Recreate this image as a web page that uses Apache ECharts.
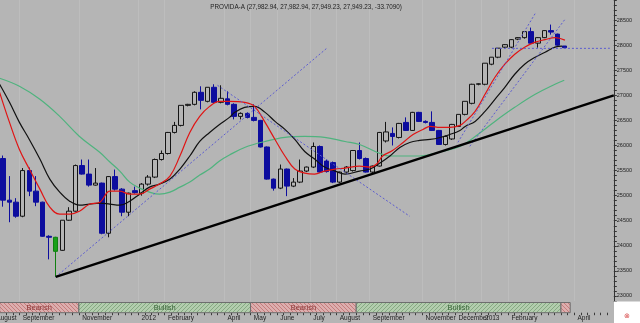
<!DOCTYPE html>
<html><head><meta charset="utf-8">
<script src="https://cdn.jsdelivr.net/npm/echarts@6/dist/echarts.min.js"></script>
<style>html,body{margin:0;padding:0;background:#b5b5b5;overflow:hidden;}#c{width:647px;height:323px;margin-left:-7px;}</style>
</head><body><div id="c"></div>
<script>
// ---------- DATA ----------
const weekCount = 94; // weekly slots on the x axis (first slot = week of Aug 5 2011)
const monthTicks = [[0,'August'],[4,'September'],[13,'November'],[22,'2012'],[26,'February'],[35,'April'],[39,'May'],[43,'June'],[48,'July'],[52,'August'],[57,'September'],[65,'November'],[70,'December'],[74,'2013'],[78,'February'],[88,'April']];
const yTickLabels = [23000,23500,24000,24500,25000,25500,26000,26500,27000,27500,28000,28500];
const firstCandle = 1;
const signalCandle = 9;
const open  = [25740,24910,24870,24590,25500,25090,24870,24190,24170,23910,24510,24690,25600,25430,25210,25250,24250,25380,25130,24670,25100,25050,25230,25370,25720,25840,26260,26400,26800,26820,27060,26880,27160,26860,26930,26820,26580,26640,26560,26500,25970,25330,25150,25530,25190,25270,25490,25570,25980,25690,25660,25270,25470,25500,25900,25740,25470,25590,26090,26240,26160,26460,26300,26660,26480,26460,26300,26020,26130,26380,26620,26840,27220,27220,27620,27760,27960,27960,28120,28150,28270,28040,28150,28290,28220,27982.94];
const high  = [25800,25390,24950,25550,25560,25390,24880,24210,24180,24510,24770,25620,25720,25720,25550,25260,25390,25520,25150,25060,25180,25250,25410,25740,25900,26270,26470,26800,26830,27080,27180,27160,27220,27200,27080,26840,26660,26660,26820,26510,25980,25340,25620,25540,25350,25720,25580,26060,26000,25720,25680,25480,25590,25910,26060,25760,25600,26270,26470,26360,26450,26560,26670,26670,26500,26680,26310,26200,26430,26620,26880,27230,27240,27640,27760,27940,28020,28120,28160,28270,28350,28160,28300,28410,28230,27982.94];
const low   = [24780,24470,24560,24570,24990,24790,24180,23730,23380,23900,24500,24680,25420,25180,25200,24230,24170,25100,24590,24590,25040,25000,25200,25350,25700,25820,26240,26380,26780,26800,26720,26860,26850,26840,26800,26520,26520,26540,26480,25960,25320,25100,25130,24990,25170,25250,25470,25550,25450,25460,25250,25250,25440,25480,25720,25460,25450,25580,26060,26000,26140,26290,26290,26470,26440,26290,26010,26000,26110,26370,26600,26820,27200,27200,27600,27740,27940,27940,28100,28130,28030,27950,28140,28210,27990,27949.23];
const close = [24910,24870,24590,25500,25090,24870,24190,24170,23890,24510,24690,25600,25430,25210,25250,24250,25380,25130,24670,25050,25060,25230,25370,25720,25840,26260,26400,26800,26820,27060,26900,27160,26860,26940,26820,26580,26640,26560,26500,25970,25330,25150,25530,25190,25270,25490,25570,25980,25470,25480,25270,25470,25570,25900,25740,25470,25590,26260,26270,26180,26440,26300,26660,26480,26460,26300,26020,26180,26420,26620,26880,27220,27230,27640,27760,27940,28010,28110,28150,28270,28040,28150,28290,28260,28000,27949.23];
// moving averages: [week position, price]
const maRed = [[0.5,27060],[2,26460],[3.5,25920],[5,25530],[6.6,25130],[8.1,24770],[9.6,24630],[11.1,24630],[12.6,24690],[14.1,24830],[15.7,24870],[17.2,25090],[18.7,25090],[20.2,25030],[21.7,25030],[23.2,25130],[24.7,25230],[26.3,25390],[27.8,25790],[29.3,26260],[30.8,26580],[32.3,26780],[33.8,26880],[35.3,26880],[37.6,26860],[39.1,26780],[40.7,26460],[42.2,26120],[43.7,25790],[45.2,25530],[46.7,25450],[48.2,25430],[49.7,25490],[51.3,25530],[52.8,25550],[55,25590],[56.6,25570],[57.6,25630],[58.5,25790],[60,25900],[61.6,26060],[63.1,26220],[64.6,26320],[65.7,26380],[67.2,26360],[68.7,26360],[70.2,26400],[71,26480],[72.5,26680],[74,27020],[75.5,27360],[77,27620],[78.5,27820],[80,27960],[81.6,28060],[83.1,28110],[84.6,28150],[86.1,28100]];
const maBlack = [[0.5,27220],[2,26860],[3.5,26460],[5,26120],[6.6,25730],[8.1,25330],[9.6,25070],[11.1,24890],[12.6,24810],[14.1,24830],[15.7,24850],[17.2,24830],[18.7,24810],[20.2,24890],[21.7,25030],[23.2,25170],[24.7,25230],[26.3,25330],[27.8,25530],[29.3,25790],[30.8,26080],[32.3,26260],[33.8,26420],[35.3,26560],[36.1,26660],[37.6,26760],[39.1,26780],[40.7,26660],[42.2,26480],[43.7,26320],[45.2,26120],[46.7,25880],[48.2,25730],[49.7,25570],[51.3,25490],[52.8,25430],[55,25490],[56.6,25530],[58.1,25650],[59.6,25790],[61.1,25960],[62.6,26060],[64.1,26100],[65.7,26120],[67.2,26160],[68.7,26220],[70.2,26300],[71,26380],[72.5,26480],[74,26680],[75.5,26920],[77,27160],[78.5,27420],[80,27620],[81.6,27760],[83.1,27860],[84.6,27960],[85.7,27980]];
const maGreen = [[0.5,27340],[3.5,27180],[6.6,26920],[9.6,26580],[12.6,26180],[15.7,25860],[17.2,25670],[18.7,25490],[20.2,25270],[21.7,25150],[23.2,25070],[24.7,25030],[26.3,25070],[27.8,25170],[29.3,25270],[30.8,25410],[32.3,25530],[33.8,25690],[35.3,25810],[37.6,25960],[40.7,26080],[43.7,26160],[46.7,26180],[49.7,26160],[52.8,26080],[55,26020],[58.1,25840],[59.6,25790],[61.1,25790],[64.1,25790],[67.2,25870],[70.2,25980],[72.5,26180],[75.5,26480],[78.5,26760],[81.6,27020],[84.6,27220],[86,27300]];
const trendMain = [[9,23380],[93.5,27000]];
const dashLines = [
  [[9,23380],[50.2,27956]],
  [[33.5,27199],[62.6,24589]],
  [[69.9,26063],[81.7,28653]],
  [[71.7,25984],[86.1,28514]],
  [[75.05,27936],[92.9,27936]]
];
const bandStart = [0.5,12.5,38.5,54.5,85.5];
const bandEnd   = [12.5,38.5,54.5,85.5,86.9];
const bandKind  = ['Bearish','Bullish','Bearish','Bullish','Bearish'];
const bandShowLabel = [true,true,true,true,false];
const markerPos  = [[39,27000],[85.8,28300],[39.1,26785],[86.4,28075],[12.9,25130],[12.9,24950],[54.7,25660],[54.7,25500]];
const markerText = ['Out','Out','+','\u01B8','\u2191','m','\u2191','m'];
const markerColor= ['#202020','#202020','#e00000','#e00000','#1a8a1a','#202020','#1a8a1a','#202020'];
const markerSize = [5,5,9,7,8,5,8,5];
const titleText = 'PROVIDA-A (27,982.94, 27,982.94, 27,949.23, 27,949.23, -33.7090)';

// ---------- BUILD ----------
const OFF = 7; // chart container starts 7px left of the page
const cats = []; for (let i=0;i<weekCount;i++) cats.push(String(i));
const labelMap = {}; monthTicks.forEach(t=>labelMap[t[0]]=t[1]);
const yLabelSet = new Set(yTickLabels);

const candleData = open.map((o,i)=>{
  const idx = i + firstCandle;
  const item = {value:[idx, o, close[i], low[i], high[i]]};
  if (idx === signalCandle) item.itemStyle = {color:'#18a018', color0:'#18a018', borderColor:'#108010', borderColor0:'#108010'};
  return item;
});

function hatch(base, stroke, dir){
  const cv = document.createElement('canvas'); cv.width = 4; cv.height = 4;
  const g = cv.getContext('2d'); g.fillStyle = base; g.fillRect(0,0,4,4);
  g.fillStyle = stroke;
  for (let i=0;i<4;i++) g.fillRect(i, dir>0 ? 3-i : i, 1, 1);
  return {image: cv, repeat: 'repeat'};
}
const bearFill = hatch('#dcaeae','#c47c7c',-1);
const bullFill = hatch('#b3cdae','#86aa82',1);

const FONT = 'Liberation Sans, Arial, sans-serif';
const series = [
  {type:'candlestick', xAxisIndex:0, yAxisIndex:0, barWidth:5, z:2,
   encode:{x:0, y:[1,2,3,4]}, data:candleData,
   itemStyle:{color:'#b5b5b5', color0:'#0d0d9e', borderColor:'#151515', borderColor0:'#0d0d9e', borderWidth:1},
   emphasis:{disabled:true}},
  {type:'line', xAxisIndex:1, yAxisIndex:0, data:maGreen, smooth:0.4, symbol:'none', z:3, lineStyle:{color:'#4fb37e', width:1.2}},
  {type:'line', xAxisIndex:1, yAxisIndex:0, data:maBlack, smooth:0.4, symbol:'none', z:3, lineStyle:{color:'#111', width:1.2}},
  {type:'line', xAxisIndex:1, yAxisIndex:0, data:maRed, smooth:0.4, symbol:'none', z:3, lineStyle:{color:'#e01414', width:1.2}},
  {type:'line', xAxisIndex:1, yAxisIndex:0, data:trendMain, symbol:'none', z:4, lineStyle:{color:'#000', width:2.5}}
];
dashLines.forEach(d=>series.push({type:'line', xAxisIndex:1, yAxisIndex:0, data:d, symbol:'none', z:3,
  lineStyle:{color:'#5c5cd0', width:1, type:[2,2]}}));
series.push({type:'scatter', xAxisIndex:1, yAxisIndex:0, symbolSize:1, z:6, itemStyle:{opacity:0},
  data: markerPos.map((p,i)=>({value:p, label:{show:true, position:'inside', formatter:markerText[i], color:markerColor[i], fontSize:markerSize[i], fontWeight:'bold', fontFamily:FONT}}))});
series.push({type:'custom', xAxisIndex:3, yAxisIndex:1, z:2,
  data: bandStart.map((s,i)=>[s, bandEnd[i], i]),
  renderItem:(params, api)=>{
    const i = api.value(2);
    const p0 = api.coord([api.value(0), 1]);
    const p1 = api.coord([api.value(1), 0]);
    const bear = bandKind[i]==='Bearish';
    const children = [{type:'rect', shape:{x:p0[0], y:p0[1], width:p1[0]-p0[0], height:p1[1]-p0[1]},
      style:{fill: bear?bearFill:bullFill, stroke:'#6e6e6e', lineWidth:1}}];
    if (bandShowLabel[i]) children.push({type:'text', style:{text:bandKind[i], x:(p0[0]+p1[0])/2, y:(p0[1]+p1[1])/2,
      align:'center', verticalAlign:'middle', fill: bear?'#8c3434':'#3a663a', font:'7.5px '+FONT}});
    return {type:'group', children};
  }});

const chart = echarts.init(document.getElementById('c'), null, {renderer:'canvas'});
chart.setOption({
  animation:false,
  backgroundColor:'#b5b5b5',
  grid:[{left:0, right:26.2, top:0, bottom:22},
        {left:0, right:26.2, top:302.5, bottom:10.3}],
  xAxis:[
    {type:'category', gridIndex:0, data:cats, boundaryGap:true, axisLine:{show:false, onZero:false}, axisTick:{show:false}, axisLabel:{show:false},
     splitLine:{show:true, interval:(i)=>i>0 && labelMap[i]!==undefined, lineStyle:{color:'#bdbdbd', width:1}}},
    {type:'value', gridIndex:0, min:-0.5, max:93.5, show:false, axisLine:{show:false, onZero:false}, splitLine:{show:false}},
    {type:'category', gridIndex:1, data:cats, boundaryGap:true, position:'bottom',
     axisLine:{show:false, onZero:false}, axisTick:{show:true, interval:0, length:2.5, lineStyle:{color:'#3a3a3a'}},
     axisLabel:{interval:(i)=>labelMap[i]!==undefined, formatter:(v,i)=>labelMap[i]||'', align:'left', fontSize:6.5, color:'#1e1e1e', margin:2.5, fontFamily:FONT},
     splitLine:{show:false}},
    {type:'value', gridIndex:1, min:-0.5, max:93.5, show:false, axisLine:{show:false, onZero:false}, splitLine:{show:false}}
  ],
  yAxis:[
    {type:'value', gridIndex:0, position:'right', min:22900, max:28900, interval:100,
     axisLine:{show:true, onZero:false, lineStyle:{color:'#333'}}, axisTick:{show:true, length:3, lineStyle:{color:'#333'}},
     axisLabel:{formatter:(v)=>yLabelSet.has(v)?String(v):'', fontSize:5.5, color:'#222', margin:3, fontFamily:FONT},
     splitLine:{show:false}},
    {type:'value', gridIndex:1, min:0, max:1, show:false, axisLine:{show:false, onZero:false}, splitLine:{show:false}}
  ],
  graphic:[
    {type:'text', x:306+OFF, y:7, z:10, style:{text:titleText, align:'center', verticalAlign:'middle', fill:'#1e1e1e', font:'6.3px '+FONT}},
    {type:'rect', x:614+OFF, y:301.5, z:10, shape:{width:26, height:22}, style:{fill:'#ffffff'}},
    {type:'text', x:627+OFF, y:316, z:11, style:{text:'\u2297', align:'center', verticalAlign:'middle', fill:'#d84a4a', font:'7px DejaVu Sans'}}
  ],
  series
});
</script></body></html>
